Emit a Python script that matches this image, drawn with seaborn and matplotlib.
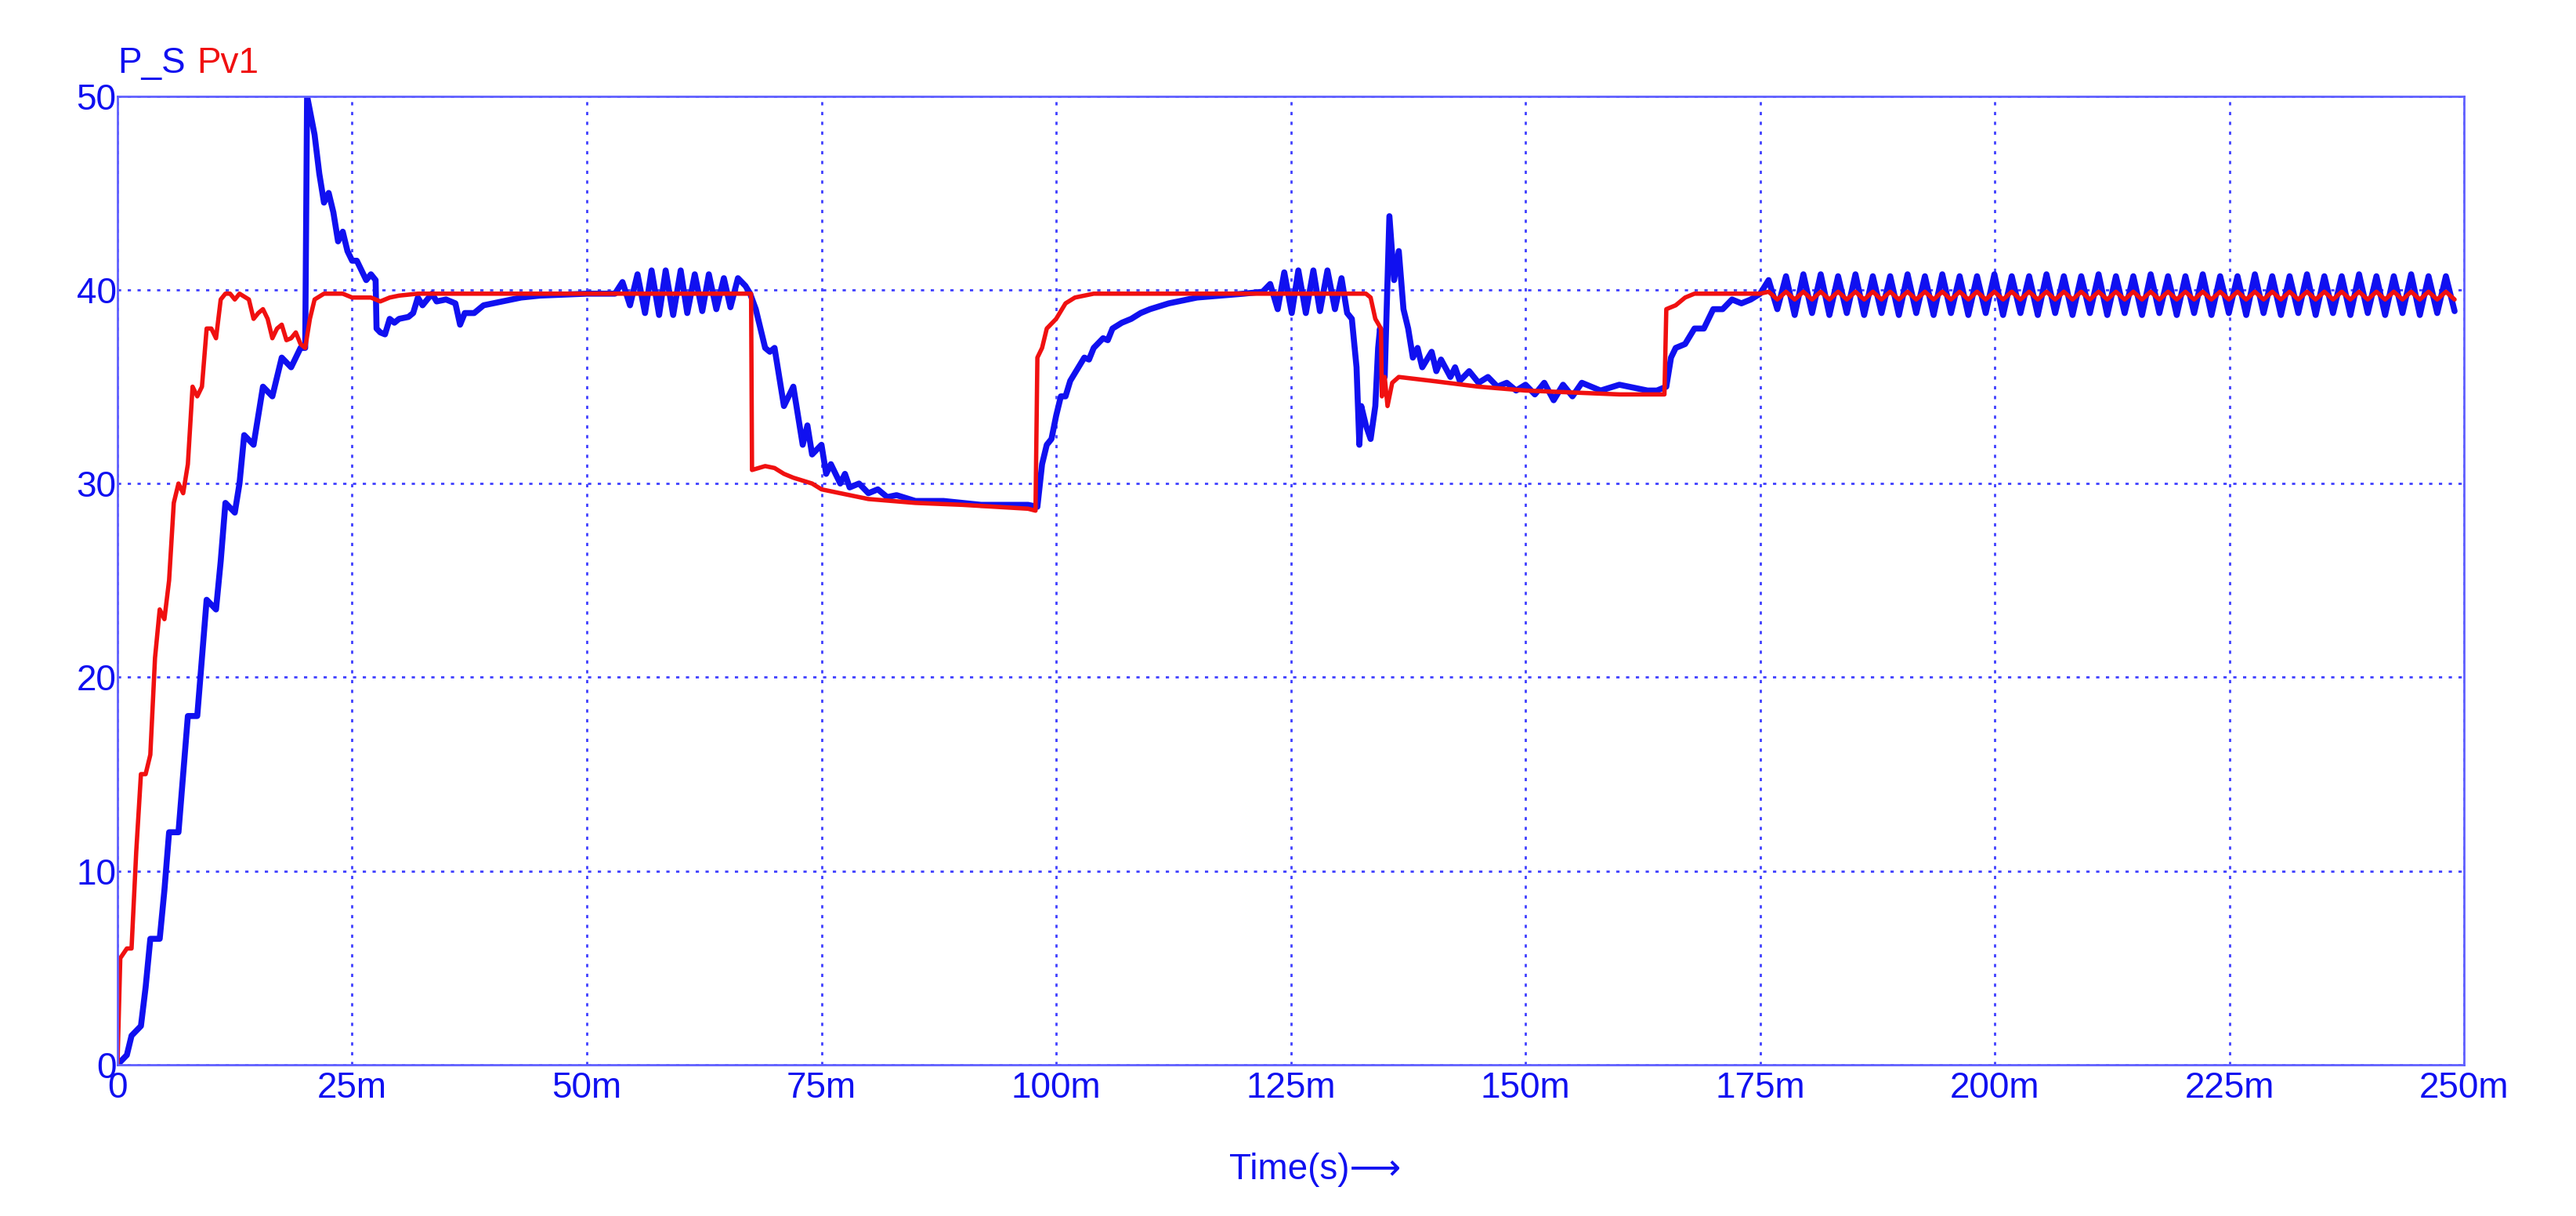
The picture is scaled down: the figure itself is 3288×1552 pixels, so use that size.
import numpy as np
import pandas as pd
import seaborn as sns
import matplotlib.pyplot as plt

sns.set_style("white")
plt.rcParams["font.family"] = ["Liberation Sans", "DejaVu Sans"]

BLUE = "#1010f0"
RED = "#f01010"

# ---- P_S (blue), time in ms ----
ps_t1 = [0, 1, 1.5, 2.5, 3, 3.5, 4.5, 5, 5.5, 6.5, 7, 7.5, 8.5, 9, 9.5, 10.5, 11, 11.5, 12.5, 13, 13.5,
         14.5, 15, 15.5, 16.5, 17, 17.5, 18.5, 19, 19.5, 20, 20.2, 20.6, 21, 21.5, 22, 22.5, 23, 23.5, 24,
         24.5, 25, 25.5, 26, 26.5, 27, 27.5, 27.6, 28, 28.5, 29, 29.5, 30, 31, 31.5, 32, 32.5, 33, 33.5,
         34, 35, 36, 36.5, 37, 38, 39, 40, 41, 42, 43, 45, 50, 53]
ps_v1 = [0, 0.5, 1.5, 2, 4, 6.5, 6.5, 9, 12, 12, 15, 18, 18, 21, 24, 23.5, 26, 29, 28.5, 30, 32.5,
         32, 33.5, 35, 34.5, 35.5, 36.5, 36, 36.5, 37, 37, 50, 49, 48, 46, 44.5, 45, 44, 42.5, 43,
         42, 41.5, 41.5, 41, 40.5, 40.8, 40.5, 38, 37.8, 37.7, 38.5, 38.3, 38.5, 38.6, 38.8, 39.6, 39.2, 39.5, 39.8,
         39.4, 39.5, 39.3, 38.2, 38.8, 38.8, 39.2, 39.3, 39.4, 39.5, 39.6, 39.7, 39.8, 39.8]
# ripple 53-67 ms (peak / trough alternation)
ps_t2 = [53.8, 54.6, 55.4, 56.2, 56.9, 57.7, 58.4, 59.2, 60.0, 60.7, 61.5, 62.3, 63.0, 63.8, 64.6, 65.3, 66.1, 66.9, 67.4]
ps_v2 = [40.4, 39.2, 40.8, 38.8, 41.0, 38.7, 41.0, 38.7, 41.0, 38.8, 40.8, 38.9, 40.8, 39.0, 40.6, 39.1, 40.6, 40.2, 39.8]
ps_t3 = [68, 69, 69.5, 70, 71, 71.5, 72, 73, 73.5, 74, 75, 75.5, 76, 77, 77.5, 78, 79, 80, 81, 82, 83, 85, 88, 92, 97, 98,
         98.5, 99, 99.5, 100, 100.5, 101, 101.5, 102, 103, 103.5, 104, 105, 105.5, 106, 107, 108, 109, 110, 112, 115, 120, 122]
ps_v3 = [39, 37, 36.8, 37, 34, 34.5, 35, 32, 33, 31.5, 32, 30.5, 31, 30, 30.5, 29.8, 30, 29.5, 29.7, 29.3, 29.4, 29.1, 29.1, 28.9, 28.9, 28.8,
         31, 32, 32.3, 33.5, 34.5, 34.5, 35.3, 35.7, 36.5, 36.4, 37, 37.5, 37.4, 38, 38.3, 38.5, 38.8, 39, 39.3, 39.6, 39.8, 39.9]
ps_t4 = [122.8, 123.6, 124.3, 125.1, 125.8, 126.6, 127.4, 128.1, 128.9, 129.7, 130.4, 131.0]
ps_v4 = [40.3, 39.0, 40.9, 38.8, 41.0, 38.8, 41.0, 38.9, 41.0, 39.0, 40.6, 38.8]
ps_t5 = [131.5, 132, 132.3, 132.5, 133, 133.5, 134, 134.3, 134.5, 135, 135.5, 136, 136.5, 137, 137.5, 138, 138.5, 139,
         140, 140.5, 141, 142, 142.5, 143, 144, 145, 146, 147, 148, 149, 150, 151, 152, 153, 154, 155, 156, 158, 160,
         163, 164, 165, 165.5, 166, 167, 168, 169, 170, 171, 172, 173, 174, 175]
ps_v5 = [38.5, 36, 32, 34, 33, 32.3, 34, 37, 38, 35.5, 43.8, 40.5, 42, 39, 38, 36.5, 37, 36,
         36.8, 35.8, 36.4, 35.5, 36, 35.3, 35.8, 35.2, 35.5, 35, 35.2, 34.8, 35.1, 34.6, 35.2, 34.3, 35.1, 34.5, 35.2, 34.8, 35.1,
         34.8, 34.8, 35, 36.5, 37, 37.2, 38, 38, 39, 39, 39.5, 39.3, 39.5, 39.8]
ps_peak6 = [40.5, 40.7, 40.8, 40.8, 40.7, 40.8, 40.7, 40.7, 40.8, 40.7, 40.8, 40.7, 40.7, 40.8, 40.7, 40.7, 40.8, 40.7, 40.7, 40.8,
            40.7, 40.7, 40.8, 40.7, 40.7, 40.8, 40.7, 40.7, 40.8, 40.7, 40.7, 40.8, 40.7, 40.7, 40.8, 40.7, 40.7, 40.8, 40.7, 40.7]
ps_trough6 = [39.0, 38.7, 38.8, 38.7, 38.8, 38.7, 38.8, 38.7, 38.8, 38.7, 38.8, 38.7, 38.8, 38.7, 38.8, 38.7, 38.8, 38.7, 38.8, 38.7,
              38.8, 38.7, 38.8, 38.7, 38.8, 38.7, 38.8, 38.7, 38.8, 38.7, 38.8, 38.7, 38.8, 38.7, 38.8, 38.7, 38.8, 38.7, 38.8, 38.9]

# ---- Pv1 (red) ----
pv_t1 = [0, 0.3, 1, 1.5, 2, 2.5, 3, 3.5, 4, 4.5, 5, 5.5, 6, 6.5, 7, 7.5, 8, 8.5, 9, 9.5, 10, 10.5, 11, 11.5, 12, 12.5, 13,
         14, 14.5, 15, 15.5, 16, 16.5, 17, 17.5, 18, 18.5, 19, 19.5, 20, 20.5, 21, 22, 24, 25, 27, 28, 29, 30, 32, 67.5,
         67.6, 69, 70, 71, 72, 74, 75, 76, 78, 80, 85, 90, 97, 97.8, 98, 98.5, 99, 100, 101, 102, 104, 133, 133.5, 134,
         134.6, 134.7, 135, 135.3, 135.8, 136.5, 140, 145, 150, 160, 164.8, 165, 166, 167, 168, 175]
pv_v1 = [0, 5.5, 6, 6, 11, 15, 15, 16, 21, 23.5, 23, 25, 29, 30, 29.5, 31, 35, 34.5, 35, 38, 38, 37.5, 39.5, 39.8, 39.8, 39.5, 39.8,
         39.5, 38.5, 38.8, 39, 38.5, 37.5, 38, 38.2, 37.4, 37.5, 37.8, 37.2, 37, 38.5, 39.5, 39.8, 39.8, 39.6, 39.6, 39.4, 39.6, 39.7, 39.8, 39.8,
         30.7, 30.9, 30.8, 30.5, 30.3, 30, 29.7, 29.6, 29.4, 29.2, 29, 28.9, 28.7, 28.6, 36.5, 37, 38, 38.5, 39.3, 39.6, 39.8, 39.8, 39.6, 38.5,
         38, 34.5, 35.5, 34, 35.2, 35.5, 35.3, 35, 34.8, 34.6, 34.6, 39, 39.2, 39.6, 39.8, 39.8]
pv_hi = [39.9] * 40
pv_lo = [39.5] * 40


def osc(t0, period, peaks, troughs):
    t, v = [], []
    for i, (p, q) in enumerate(zip(peaks, troughs)):
        t += [t0 + i * period, t0 + (i + 0.5) * period]
        v += [p, q]
    return t, v


t6, v6 = osc(175.9, 1.85, ps_peak6, ps_trough6)
ps = pd.DataFrame({"t": ps_t1 + ps_t2 + ps_t3 + ps_t4 + ps_t5 + t6,
                   "v": ps_v1 + ps_v2 + ps_v3 + ps_v4 + ps_v5 + v6})
t7, v7 = osc(175.9, 1.85, pv_hi, pv_lo)
pv = pd.DataFrame({"t": pv_t1 + t7, "v": pv_v1 + v7})
ps["t"] /= 1000
pv["t"] /= 1000

fig = plt.figure(figsize=(32.88, 15.52), dpi=100)
ax = fig.add_axes([0.0456, 0.1244, 0.911, 0.7966])
sns.lineplot(data=ps, x="t", y="v", color=BLUE, lw=5.5, ax=ax, sort=False)
sns.lineplot(data=pv, x="t", y="v", color=RED, lw=4, ax=ax, sort=False)

ax.set_xlim(0, 0.25)
ax.set_ylim(0, 50)
xt = np.arange(0, 0.2501, 0.025)
ax.set_xticks(xt)
ax.set_xticklabels(["0"] + [f"{int(round(x * 1000))}m" for x in xt[1:]])
ax.set_yticks(range(0, 51, 10))
ax.tick_params(colors=BLUE, labelsize=33, length=0)
ax.tick_params(axis="y", pad=1)
ax.tick_params(axis="x", pad=6)
for s in ax.spines.values():
    s.set_color("#6060ff")
    s.set_linewidth(2)
ax.grid(True, color="#4040ff", linestyle=(0, (1.5, 3)), linewidth=2)
ax.set_xlabel("")
ax.set_ylabel("")
fig.text(0.5105, 0.03, "Time(s)\u27f6", color=BLUE, fontsize=33, ha="center",
         family=["Liberation Sans", "DejaVu Sans"])
fig.text(0.0456, 0.94, "P_S", color=BLUE, fontsize=33)
fig.text(0.0765, 0.94, "Pv1", color=RED, fontsize=33)

fig.savefig("out.png", dpi=100)
